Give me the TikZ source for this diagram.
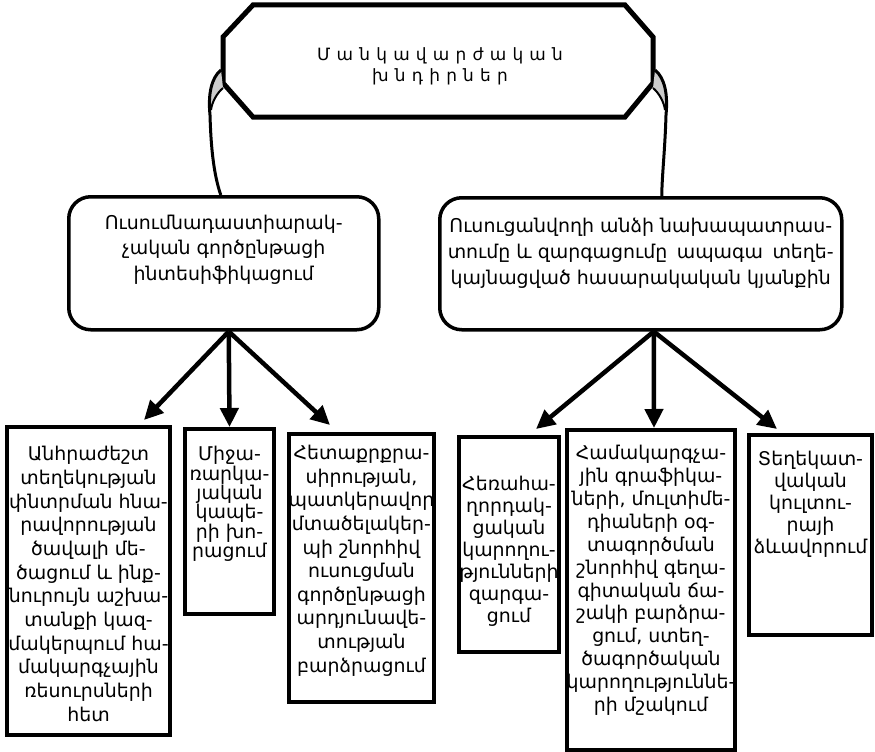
\documentclass[tikz,border=0pt]{standalone}
\usepackage{fontspec}
\setmainfont{DejaVu Sans}
\newfontfamily\titlefont[WordSpace=1.15]{DejaVu Sans}
\usetikzlibrary{arrows.meta,calc}
\begin{document}
\begin{tikzpicture}[x=1bp,y=-1bp,
  box/.style={draw, line width=4bp, inner sep=0pt, anchor=north west},
  rbox/.style={draw, line width=3.5bp, rounded corners=22bp, inner sep=0pt, anchor=north west},
  txt/.style={align=center, inner sep=0pt, anchor=north},
  arr/.style={line width=4.5bp, -{Triangle[length=19bp,width=18bp]}},
  curl/.style={line width=3bp},
  curlin/.style={line width=2bp},
  curlfill/.style={fill=gray!40},
]
\useasboundingbox (0,0) rectangle (875,752);

% title octagon
\draw[line width=5bp, line join=miter] (253,5) -- (625,5) -- (653,37) -- (653,83) -- (625,117) -- (253,117) -- (223,83) -- (223,37) -- cycle;
\node[font=\titlefont\fontsize{17}{21}\selectfont, align=center] (title) at (440,66) {Մ ա ն կ ա վ ա ր ժ ա կ ա ն\\խ ն դ ի ր ն ե ր};

% second level
\node[rbox, minimum width=310bp, minimum height=133bp] (lb) at (67,195) {};
\node[rbox, minimum width=402bp, minimum height=132bp] (rb) at (438,196) {};
\node[txt, font=\fontsize{19}{25.5}\selectfont] (lbt) at ([yshift=-20bp]lb.north) {Ուսումնադաստիարակ-\\չական գործընթացի\\ինտեսիֆիկացում};
\node[txt, font=\fontsize{19}{26}\selectfont] (rbt) at ([yshift=-22bp]rb.north) {Ուսուցանվողի անձի նախապատրաս-\\տումը և զարգացումը\enspace ապագա\enspace տեղե-\\կայնացված հասարակական կյանքին};

% scroll curls
\fill[curlfill] (221,70) .. controls (212,78) and (209,92) .. (211,108) .. controls (214,100) and (218,92) .. (223,88) -- cycle;
\draw[curl] (221,70) .. controls (211,78) and (208,95) .. (210,115) .. controls (211,150) and (214,175) .. ([xshift=-3bp]lb.north);
\draw[curlin] (223,88) .. controls (217,93) and (212,102) .. (211,110);
\fill[curlfill] (655,70) .. controls (664,78) and (667,92) .. (665,108) .. controls (662,100) and (658,92) .. (653,88) -- cycle;
\draw[curl] (655,70) .. controls (665,78) and (668,95) .. (666,115) .. controls (665,150) and (662,175) .. ([xshift=21bp]rb.north);
\draw[curlin] (653,88) .. controls (659,93) and (664,102) .. (665,110);

% leaf boxes
\node[box, minimum width=163bp, minimum height=308bp] (b1) at (5,425) {};
\node[box, minimum width=89bp, minimum height=185bp] (b2) at (183,427) {};
\node[box, minimum width=145bp, minimum height=268bp] (b3) at (287,432) {};
\node[box, minimum width=100bp, minimum height=215bp] (b4) at (457,435) {};
\node[box, minimum width=168bp, minimum height=320bp] (b5) at (565,428) {};
\node[box, minimum width=123bp, minimum height=200bp] (b6) at (747,433) {};

\node[txt, font=\fontsize{19}{23.8}\selectfont] (t1) at ([yshift=-21bp]b1.north) {Անհրաժեշտ\\տեղեկության\\փնտրման հնա-\\րավորության\\ծավալի մե-\\ծացում և ինք-\\նուրույն աշխա-\\տանքի կազ-\\մակերպում հա-\\մակարգչային\\ռեսուրսների\\հետ};
\node[txt, font=\fontsize{19}{19.5}\selectfont] (t2) at ([yshift=-19bp]b2.north) {Միջա-\\ռարկա-\\յական\\կապե-\\րի խո-\\րացում};
\node[txt, font=\fontsize{19}{23.7}\selectfont] (t3) at ([yshift=-13bp]b3.north) {Հետաքրքրա-\\սիրության,\\պատկերավոր\\մտածելակեր-\\պի շնորհիվ\\ուսուցման\\գործընթացի\\արդյունավե-\\տության\\բարձրացում};
\node[txt, font=\fontsize{19}{22}\selectfont] (t4) at ([yshift=-41bp]b4.north) {Հեռահա-\\ղորդակ-\\ցական\\կարողու-\\թյունների\\զարգա-\\ցում};
\node[txt, font=\fontsize{19}{23}\selectfont] (t5) at ([yshift=-17bp]b5.north) {Համակարգչա-\\յին գրաֆիկա-\\ների, մուլտիմե-\\դիաների օգ-\\տագործման\\շնորհիվ գեղա-\\գիտական ճա-\\շակի բարձրա-\\ցում, ստեղ-\\ծագործական\\կարողություննե-\\րի մշակում};
\node[txt, font=\fontsize{19}{22}\selectfont] (t6) at ([yshift=-18bp]b6.north) {Տեղեկատ-\\վական\\կուլտու-\\րայի\\ձևավորում};

% arrows
\coordinate (lo) at ([xshift=5bp]lb.south);
\coordinate (ro) at ([xshift=13bp]rb.south);
\draw[arr] (lo) -- ([xshift=-28bp,yshift=5bp]b1.north east);
\draw[arr] (lo) -- (b2.north);
\draw[arr] (lo) -- ([xshift=43bp,yshift=7bp]b3.north west);
\draw[arr] (ro) -- ([xshift=-25bp,yshift=6bp]b4.north east);
\draw[arr] (ro) -- ([xshift=3bp]b5.north);
\draw[arr] (ro) -- ([xshift=30bp,yshift=4bp]b6.north west);
\end{tikzpicture}
\end{document}
